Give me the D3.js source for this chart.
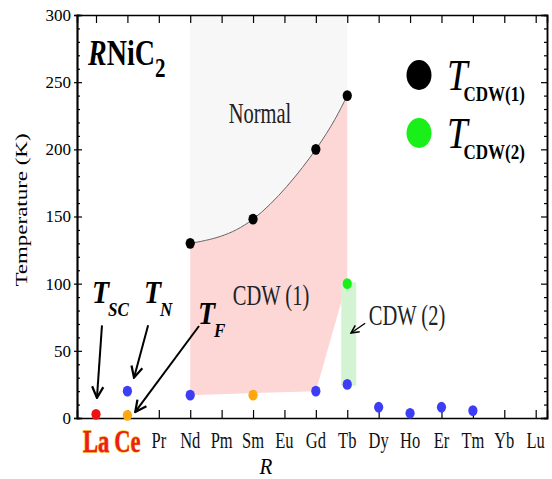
<!DOCTYPE html>
<html>
<head>
<meta charset="utf-8">
<script src="https://cdn.jsdelivr.net/npm/d3@7"></script>
<style>
  body { margin: 0; background: #fff; }
  text { font-family: "Liberation Serif", "Times New Roman", serif; }
</style>
</head>
<body>
<svg id="chart" width="552" height="479"></svg>
<script>
// categories (rare earth R in RNiC2)
var elements = ["La", "Ce", "Pr", "Nd", "Pm", "Sm", "Eu", "Gd", "Tb", "Dy", "Ho", "Er", "Tm", "Yb", "Lu"];
var yTicks = [0, 50, 100, 150, 200, 250, 300];

// transition temperatures (K)
var tCdw1 = [{r: "Nd", t: 130}, {r: "Sm", t: 148}, {r: "Gd", t: 200}, {r: "Tb", t: 240}];
var tCdw2 = [{r: "Tb", t: 100}];
var tN = [{r: "Ce", t: 20}, {r: "Nd", t: 17}, {r: "Gd", t: 20}, {r: "Tb", t: 25},
          {r: "Dy", t: 8}, {r: "Ho", t: 3.5}, {r: "Er", t: 8}, {r: "Tm", t: 5.5}];
var tF = [{r: "Ce", t: 2}, {r: "Sm", t: 17}];
var tSC = [{r: "La", t: 2.7}];

// lower edge of the CDW(1) region and the CDW(2) band
var cdw1Lower = [{r: "Tb", t: 102}, {r: "Gd", t: 20}, {r: "Nd", t: 17}];
var cdw2Band = {r: "Tb", lo: 24, hi: 101};

var svg = d3.select("#chart");
var stretch = 1.4;   // the original figure's text looks condensed

var x = d3.scaleLinear().domain([-0.605, 14.36]).range([77, 547]);
var y = d3.scaleLinear().domain([0, 300]).range([418, 15]);
var xi = function(r) { return x(elements.indexOf(r)); };

// shaded phase regions
var curve = d3.line()
    .x(d => xi(d.r))
    .y(d => y(d.t))
    .curve(d3.curveNatural);
var curvePath = curve(tCdw1);

svg.append("path")
    .attr("d", "M" + xi("Nd") + "," + y(300) + "L" + curvePath.slice(1) +
               "L" + xi("Tb") + "," + y(300) + "Z")
    .attr("fill", "#f7f7f7");

var lower = cdw1Lower.map(d => "L" + xi(d.r) + "," + y(d.t)).join("");
svg.append("path")
    .attr("d", curvePath + lower + "Z")
    .attr("fill", "#fdd6d6");

svg.append("rect")
    .attr("x", xi(cdw2Band.r) - 6)
    .attr("y", y(cdw2Band.hi))
    .attr("width", 15)
    .attr("height", y(cdw2Band.lo) - y(cdw2Band.hi))
    .attr("fill", "#d3f3d3");

svg.append("path")
    .attr("d", curvePath)
    .attr("fill", "none")
    .attr("stroke", "#666")
    .attr("stroke-width", 1);

// axes
var minor = d3.range(0, 301, 10).filter(v => v % 50 !== 0);
var idx = d3.range(elements.length);

function axis(gen, tx, ty) {
  var g = svg.append("g")
      .attr("transform", "translate(" + tx + "," + ty + ")")
      .call(gen);
  g.select(".domain").attr("stroke", "#000").attr("stroke-width", 1.5);
  g.selectAll(".tick line").attr("stroke", "#000").attr("stroke-width", 1.2);
  return g;
}

var left = axis(d3.axisLeft(y).tickValues(yTicks).tickSize(3).tickPadding(3), 77, 0);
left.selectAll("text")
    .attr("font-size", 17)
    .attr("font-family", "Liberation Serif, serif")
    .attr("fill", "#000");
axis(d3.axisLeft(y).tickValues(yTicks).tickSize(-5).tickFormat(""), 77, 0);
axis(d3.axisLeft(y).tickValues(minor).tickSize(-3).tickFormat(""), 77, 0);
axis(d3.axisRight(y).tickValues(yTicks).tickSize(-6).tickFormat(""), 547, 0);
axis(d3.axisRight(y).tickValues(minor).tickSize(-3).tickFormat(""), 547, 0);
axis(d3.axisBottom(x).tickValues(idx).tickSize(-8).tickFormat(""), 0, 418);
axis(d3.axisTop(x).tickValues(idx).tickSize(-8).tickFormat(""), 0, 15);

// element labels
svg.selectAll(".elab")
  .data(elements)
  .enter()
  .append("text")
    .attr("class", "elab")
    .attr("transform", (d, i) => "translate(" + x(i) + "," + (i < 2 ? 452 : 448) + ") scale(1,1.38)")
    .attr("text-anchor", "middle")
    .attr("font-size", (d, i) => i < 2 ? 22.5 : 16.5)
    .attr("font-weight", (d, i) => i < 2 ? "bold" : "normal")
    .attr("fill", (d, i) => i < 2 ? "#ee1c1c" : "#111")
    .attr("stroke", (d, i) => i === 0 ? "#f39a1a" : i === 1 ? "#f7d21a" : "none")
    .attr("stroke-width", 1)
    .attr("paint-order", "stroke")
    .text(d => d);

svg.append("text")
    .attr("transform", "translate(266,474) scale(1,1.05)")
    .attr("text-anchor", "middle")
    .attr("font-size", 21)
    .attr("font-style", "italic")
    .text("R");

svg.append("text")
    .attr("transform", "translate(27,210) rotate(-90) scale(1.35,1)")
    .attr("text-anchor", "middle")
    .attr("font-size", 17)
    .text("Temperature (K)");

// data points
function dots(data, color) {
  svg.append("g")
    .selectAll("ellipse")
    .data(data)
    .enter()
    .append("ellipse")
      .attr("cx", d => xi(d.r))
      .attr("cy", d => y(d.t))
      .attr("rx", 4.6)
      .attr("ry", 5.4)
      .attr("fill", color);
}
dots(tN, "#3d3df5");
dots(tF, "#ffa70f");
dots(tSC, "#ee1111");
dots(tCdw1, "#000");
dots(tCdw2, "#19f019");

// title
var title = svg.append("text")
    .attr("transform", "translate(88,65) scale(1,1.3)")
    .attr("font-size", 28)
    .attr("font-weight", "bold");
title.append("tspan").attr("font-style", "italic").text("R");
title.append("tspan").text("NiC");
title.append("tspan").attr("font-size", 21).attr("dy", 9).text("2");

// region labels
function regionLabel(cx, base, str) {
  svg.append("text")
      .attr("transform", "translate(" + cx + "," + base + ") scale(1," + stretch + ")")
      .attr("text-anchor", "middle")
      .attr("font-size", 20.5)
      .attr("fill", "#222")
      .text(str);
}
regionLabel(260, 123, "Normal");
regionLabel(271, 305, "CDW (1)");
regionLabel(407, 325, "CDW (2)");

// legend
var legend = [{label: "CDW(1)", color: "#000"}, {label: "CDW(2)", color: "#19f019"}];
legend.forEach(function(d, i) {
  var cy = 75 + i * 58;
  svg.append("ellipse")
      .attr("cx", 419).attr("cy", cy)
      .attr("rx", 12.5).attr("ry", 15)
      .attr("fill", d.color);
  var t = svg.append("text")
      .attr("transform", "translate(447," + (cy + 15) + ") scale(1,1.2)")
      .attr("font-size", 37);
  t.append("tspan").attr("font-style", "italic").text("T");
  t.append("tspan")
      .attr("font-size", 17)
      .attr("font-weight", "bold")
      .attr("dx", -4)
      .attr("dy", 9)
      .text(d.label);
});

// T labels with arrows
var defs = svg.append("defs");
defs.append("marker")
    .attr("id", "head")
    .attr("viewBox", "0 0 10 10")
    .attr("refX", 9).attr("refY", 5)
    .attr("markerWidth", 7).attr("markerHeight", 7)
    .attr("orient", "auto")
    .append("path")
      .attr("d", "M1,1L9,5L1,9")
      .attr("fill", "none")
      .attr("stroke", "#000")
      .attr("stroke-width", 1.6);

function tLabel(px, base, sub) {
  var t = svg.append("text")
      .attr("transform", "translate(" + px + "," + base + ") scale(1,1.1)")
      .attr("font-size", 28)
      .attr("font-weight", "bold")
      .attr("font-style", "italic");
  t.append("tspan").text("T");
  t.append("tspan").attr("font-size", 17).attr("dy", 12).attr("dx", -1).text(sub);
}
tLabel(92, 303, "SC");
tLabel(144, 303, "N");
tLabel(198, 324, "F");

var arrows = [
  {from: [0.19, 69], to: [0.03, 15]},
  {from: [1.66, 69], to: [1.21, 30]},
  {from: [3.28, 68.5], to: [1.25, 4.5]},
  {from: [8.57, 70.5], to: [8.12, 63.3]}
];
svg.selectAll(".arrow")
  .data(arrows)
  .enter()
  .append("line")
    .attr("class", "arrow")
    .attr("x1", d => x(d.from[0])).attr("y1", d => y(d.from[1]))
    .attr("x2", d => x(d.to[0])).attr("y2", d => y(d.to[1]))
    .attr("stroke", "#000")
    .attr("stroke-width", (d, i) => i === 3 ? 1.4 : 2)
    .attr("marker-end", "url(#head)");
</script>
</body>
</html>
